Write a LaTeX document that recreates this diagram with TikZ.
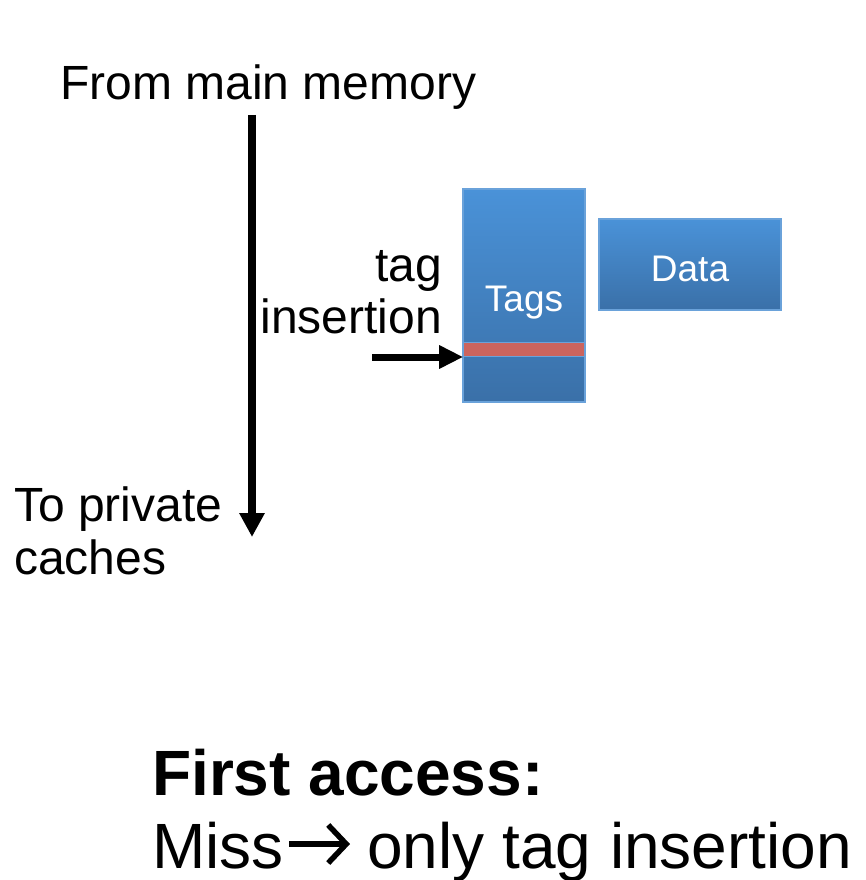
\documentclass[tikz,border=0pt]{standalone}
\usepackage{fontspec}
\setmainfont{Liberation Sans}
\usetikzlibrary{arrows.meta}
\definecolor{boxtop}{HTML}{4A92D8}
\definecolor{boxbot}{HTML}{3A70A8}
\definecolor{boxline}{HTML}{6AA2DA}
\definecolor{stripe}{HTML}{CB645E}
\tikzset{
  lbl/.style={font=\fontsize{48}{53}\selectfont, inner sep=0pt},
  big/.style={font=\fontsize{64}{70}\selectfont, inner sep=0pt, anchor=base west},
  blk/.style={draw=boxline, line width=1.2pt, top color=boxtop, bottom color=boxbot, inner sep=0pt},
  blktext/.style={text=white, font=\fontsize{37}{40}\selectfont, inner sep=0pt, anchor=base},
  bigarrow/.style={line width=8pt, -{Triangle[width=24pt,length=24pt]}},
}
\begin{document}
\begin{tikzpicture}[x=1pt,y=-1pt]
\useasboundingbox (0,0) rectangle (866,880);
\node[lbl, anchor=base west] (from) at (60,100) {From main memory};
\coordinate (vtop) at (252,115);
\coordinate (vbot) at (252,537);
\draw[bigarrow] (vtop) -- (vbot);
\node[lbl, anchor=base west, align=left] (to) at (14,574) {To private\\caches};
\node[lbl, anchor=base east, align=right, font=\fontsize{48}{52}\selectfont] (ins) at (442,333) {tag\\insertion};
\node[blk, minimum width=122pt, minimum height=213pt] (tags) at (524,295.5) {};
\node[blktext] (tagslbl) at (524,311) {Tags};
\node[fill=stripe, draw=boxline, line width=0.6pt, inner sep=0pt, minimum width=121pt, minimum height=14pt] (red) at (524,349) {};
\node[blk, minimum width=182pt, minimum height=91pt] (data) at (690,264.5) {};
\node[blktext] (datalbl) at (690,281) {Data};
\coordinate (hstart) at (372,357);
\draw[line width=7pt, -{Triangle[width=22pt,length=24pt]}] (hstart) -- (red.west |- hstart);
\node[big, font=\fontsize{64}{70}\selectfont\bfseries] (first) at (152,795) {First access:};
\node[big] (miss) at (152,868) {Miss};
\coordinate (ma) at (289,844);
\coordinate (mb) at (350,844);
\draw[line width=5.5pt, -{Straight Barb[length=18pt,width=38pt,line width=5.5pt]}] (ma) -- (mb);
\node[big] (only) at (367,868) {only tag\hspace{1pt} insertion};
\end{tikzpicture}
\end{document}
